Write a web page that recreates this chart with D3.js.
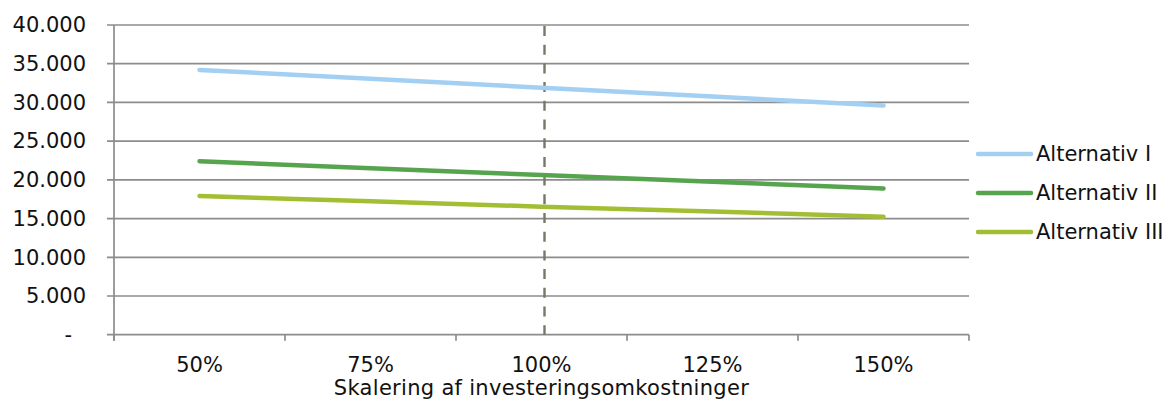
<!DOCTYPE html>
<html><head><meta charset="utf-8">
<script src="https://cdn.jsdelivr.net/npm/d3@7"></script>
<style>body{margin:0;background:#fff}text{font-family:"DejaVu Sans",Verdana,sans-serif;fill:#111}</style>
</head><body><svg id="c" width="1174" height="401"></svg>
<script>
const categories = ["50%","75%","100%","125%","150%"];
const seriesNames = ["Alternativ I","Alternativ II","Alternativ III"];
const altI = [34200, 33050, 31900, 30750, 29600];
const altII = [22400, 21500, 20630, 19750, 18870];
const altIII = [17920, 17230, 16540, 15900, 15250];
const yTicks = [0,5000,10000,15000,20000,25000,30000,35000,40000];
const markerCategory = "100%";
const colors = ["#a3cff2","#56a44e","#a2bf33"];
const FS = 21;

const svg = d3.select("#c");
const L=114, R=969, T=25, B=334.7;
const x = d3.scaleBand().domain(categories).range([L,R]);
const y = d3.scaleLinear().domain([0,40000]).range([B,T]);
const fmt = v => v===0 ? "-" : d3.format(",")(v).replace(/,/g,".");

svg.append("g").selectAll("line").data(yTicks).join("line")
  .attr("x1",L-7).attr("x2",R).attr("y1",d=>y(d)).attr("y2",d=>y(d))
  .attr("stroke","#8c8c8c").attr("stroke-width",1.7);
svg.append("g").selectAll("text").data(yTicks).join("text")
  .attr("x",d=>d===0?72:86).attr("y",d=>y(d)).attr("dy","0.35em")
  .attr("text-anchor","end").attr("font-size",FS).text(fmt);
svg.append("line").attr("x1",L).attr("x2",L).attr("y1",T).attr("y2",B+6)
  .attr("stroke","#8c8c8c").attr("stroke-width",1.7);
const bounds = categories.map(c=>x(c)).concat([R]);
svg.append("g").selectAll("line").data(bounds).join("line")
  .attr("x1",d=>d).attr("x2",d=>d).attr("y1",B).attr("y2",B+6)
  .attr("stroke","#8c8c8c").attr("stroke-width",1.7);
svg.append("g").selectAll("text").data(categories).join("text")
  .attr("x",d=>x(d)+x.bandwidth()/2).attr("y",372).attr("text-anchor","middle")
  .attr("font-size",FS).text(d=>d);
svg.append("text").attr("x",(L+R)/2).attr("y",395).attr("text-anchor","middle")
  .attr("font-size",FS).attr("letter-spacing",0.3).text("Skalering af investeringsomkostninger");

const mx = x(markerCategory)+x.bandwidth()/2+3;
svg.append("line").attr("x1",mx).attr("x2",mx).attr("y1",T+1).attr("y2",B)
  .attr("stroke","#77776a").attr("stroke-width",2.4).attr("stroke-dasharray","10,8.7");

const line = d3.line().x((d,i)=>x(categories[i])+x.bandwidth()/2).y(d=>y(d));
[altI,altII,altIII].forEach((s,i)=>{
  svg.append("path").datum(s).attr("d",line).attr("fill","none")
    .attr("stroke",colors[i]).attr("stroke-width",4.5).attr("stroke-linecap","round");
});

seriesNames.forEach((n,i)=>{
  const ly = 154 + i*39;
  svg.append("line").attr("x1",978).attr("x2",1031).attr("y1",ly).attr("y2",ly)
    .attr("stroke",colors[i]).attr("stroke-width",4.5).attr("stroke-linecap","round");
  svg.append("text").attr("x",1036).attr("y",ly).attr("dy","0.35em").attr("font-size",FS).text(n);
});
</script></body></html>
